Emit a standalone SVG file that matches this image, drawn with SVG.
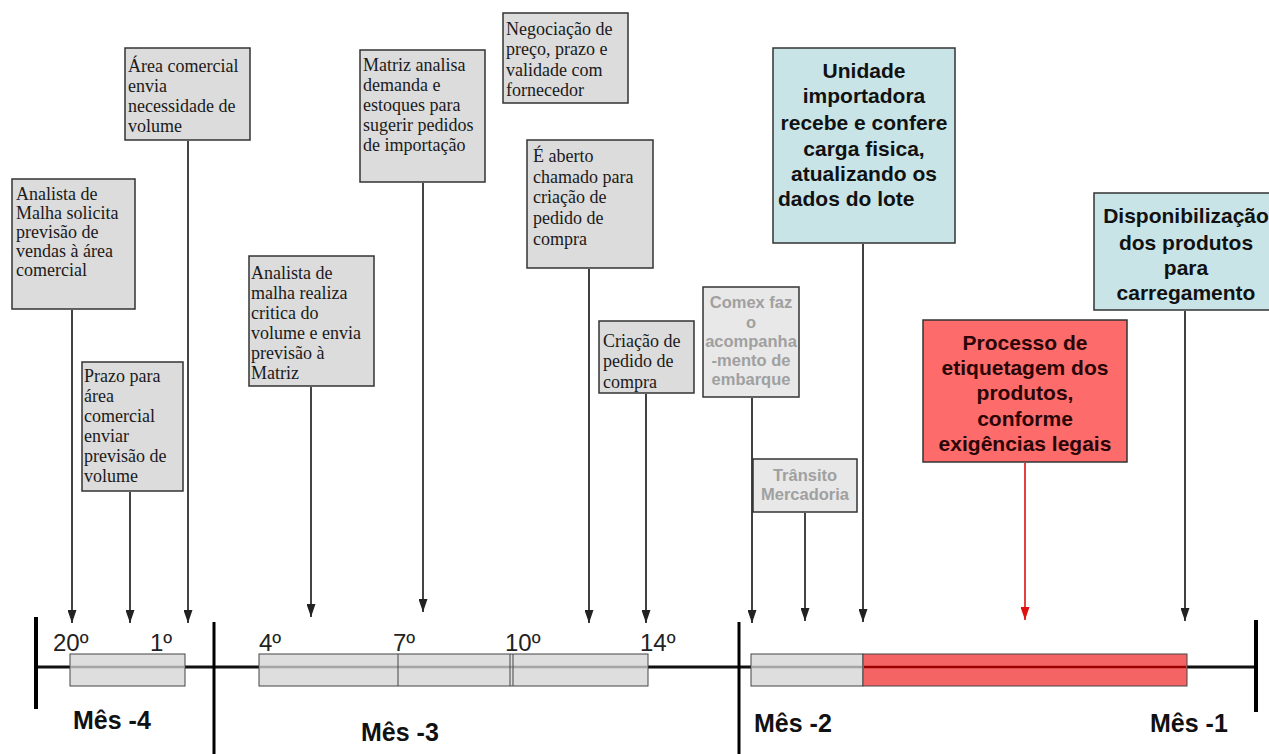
<svg xmlns="http://www.w3.org/2000/svg" width="1269" height="754" viewBox="0 0 1269 754">
<defs>
<marker id="ah" viewBox="0 0 13 9" refX="13" refY="4.5" markerWidth="13" markerHeight="9" markerUnits="userSpaceOnUse" orient="auto"><path d="M0,0 L13,4.5 L0,9 z" fill="#222"/></marker>
<marker id="ahr" viewBox="0 0 13 9" refX="13" refY="4.5" markerWidth="13" markerHeight="9" markerUnits="userSpaceOnUse" orient="auto"><path d="M0,0 L13,4.5 L0,9 z" fill="#e01010"/></marker>
<style>
.bx{fill:#dcdcdc;stroke:#333;stroke-width:1.5}
.bxl{fill:#e8e8e8;stroke:#333;stroke-width:1.5}
.bb{fill:#c8e4e7;stroke:#333;stroke-width:1.5}
.br{fill:#fd6b6b;stroke:#333;stroke-width:1.5}
.st{font-family:"Liberation Serif","Times New Roman",serif;font-size:18px;fill:#1a1a1a}
.gt{font-family:"Liberation Sans",Arial,sans-serif;font-size:16.5px;font-weight:bold;fill:#a0a0a0;text-anchor:middle}
.bt{font-family:"Liberation Sans",Arial,sans-serif;font-size:21px;font-weight:bold;fill:#111;text-anchor:middle}
.rt{font-family:"Liberation Sans",Arial,sans-serif;font-size:21px;font-weight:bold;fill:#2a0505;text-anchor:middle}
.cn{stroke:#444;stroke-width:2;fill:none;marker-end:url(#ah)}
.cnb{stroke:#111;stroke-width:1.6;fill:none;marker-end:url(#ah)}
.cnr{stroke:#e01010;stroke-width:1.6;fill:none;marker-end:url(#ahr)}
.od{font-family:"Liberation Sans",Arial,sans-serif;font-size:24px;fill:#222}
.mo{font-family:"Liberation Sans",Arial,sans-serif;font-size:25px;font-weight:bold;fill:#111}
.tb{fill:#dedede;stroke:#444;stroke-width:1}
.tr{fill:#f46464;stroke:#444;stroke-width:1}
</style>
</defs>

<g id="timeline">
<line x1="36" y1="667" x2="1256" y2="667" stroke="#111" stroke-width="3"/>
<rect class="tb" x="70" y="654" width="115" height="32"/>
<rect class="tb" x="259" y="654" width="389" height="32"/>
<rect class="tb" x="751" y="654" width="112" height="32"/>
<rect class="tr" x="863" y="654" width="324" height="32"/>
<line x1="71" y1="667" x2="184" y2="667" stroke="#a5a5a5" stroke-width="2.5"/>
<line x1="260" y1="667" x2="647" y2="667" stroke="#a5a5a5" stroke-width="2.5"/>
<line x1="752" y1="667" x2="862" y2="667" stroke="#a5a5a5" stroke-width="2.5"/>
<line x1="864" y1="667" x2="1186" y2="667" stroke="#9a0000" stroke-width="2.5"/>
<line x1="398" y1="654" x2="398" y2="686" stroke="#444" stroke-width="1"/>
<line x1="510" y1="654" x2="510" y2="686" stroke="#444" stroke-width="1"/>
<line x1="513" y1="654" x2="513" y2="686" stroke="#444" stroke-width="1"/>
<line x1="36" y1="617" x2="36" y2="709" stroke="#000" stroke-width="4"/>
<line x1="214" y1="622" x2="214" y2="754" stroke="#000" stroke-width="3"/>
<line x1="739" y1="622" x2="739" y2="754" stroke="#000" stroke-width="3"/>
<line x1="1256" y1="620" x2="1256" y2="712" stroke="#000" stroke-width="4"/>
<text class="od" x="53" y="651">20º</text>
<text class="od" x="150" y="651">1º</text>
<text class="od" x="259" y="651">4º</text>
<text class="od" x="393" y="651">7º</text>
<text class="od" x="505" y="651">10º</text>
<text class="od" x="640" y="651">14º</text>
<text class="mo" x="73" y="729">Mês -4</text>
<text class="mo" x="361" y="741">Mês -3</text>
<text class="mo" x="754" y="732">Mês -2</text>
<text class="mo" x="1150" y="732">Mês -1</text>
</g>

<g id="connectors">
<line class="cn" x1="72" y1="310" x2="72" y2="623"/>
<line class="cn" x1="188" y1="141" x2="188" y2="623"/>
<line class="cn" x1="130" y1="492" x2="130" y2="623"/>
<line class="cn" x1="311" y1="387" x2="311" y2="617"/>
<line class="cn" x1="423" y1="183" x2="423" y2="612"/>
<line class="cnb" x1="589" y1="269" x2="589" y2="623"/>
<line class="cnb" x1="646" y1="394" x2="646" y2="623"/>
<line class="cnb" x1="752" y1="398" x2="752" y2="623"/>
<line class="cn" x1="805" y1="513" x2="805" y2="621"/>
<line class="cnb" x1="863" y1="244" x2="863" y2="622"/>
<line class="cnb" x1="1185" y1="311" x2="1185" y2="621"/>
<line class="cnr" x1="1025" y1="463" x2="1025" y2="620"/>
</g>

<g id="n-analista-solicita">
<rect class="bx" x="12" y="179" width="123" height="130"/>
<text class="st"><tspan x="16" y="200">Analista de</tspan><tspan x="16" y="219">Malha solicita</tspan><tspan x="16" y="238">previsão de</tspan><tspan x="16" y="257">vendas à área</tspan><tspan x="16" y="276">comercial</tspan></text>
</g>

<g id="n-area-comercial">
<rect class="bx" x="125" y="48" width="125" height="92"/>
<text class="st"><tspan x="128" y="72">Área comercial</tspan><tspan x="128" y="92">envia</tspan><tspan x="128" y="112">necessidade de</tspan><tspan x="128" y="132">volume</tspan></text>
</g>

<g id="n-prazo">
<rect class="bx" x="82" y="362" width="101" height="129"/>
<text class="st"><tspan x="84" y="382">Prazo para</tspan><tspan x="84" y="402">área</tspan><tspan x="84" y="422">comercial</tspan><tspan x="84" y="442">enviar</tspan><tspan x="84" y="462">previsão de</tspan><tspan x="84" y="482">volume</tspan></text>
</g>

<g id="n-analista-critica">
<rect class="bx" x="249" y="256" width="125" height="130"/>
<text class="st"><tspan x="251" y="279">Analista de</tspan><tspan x="251" y="299">malha realiza</tspan><tspan x="251" y="319">critica do</tspan><tspan x="251" y="339">volume e envia</tspan><tspan x="251" y="359">previsão à</tspan><tspan x="251" y="379">Matriz</tspan></text>
</g>

<g id="n-matriz">
<rect class="bx" x="360" y="50" width="125" height="132"/>
<text class="st"><tspan x="363" y="71">Matriz analisa</tspan><tspan x="363" y="91">demanda e</tspan><tspan x="363" y="111">estoques para</tspan><tspan x="363" y="131">sugerir pedidos</tspan><tspan x="363" y="151">de importação</tspan></text>
</g>

<g id="n-negociacao">
<rect class="bx" x="503" y="13" width="125" height="90"/>
<text class="st"><tspan x="506" y="35">Negociação de</tspan><tspan x="506" y="55">preço, prazo e</tspan><tspan x="506" y="76">validade com</tspan><tspan x="506" y="96">fornecedor</tspan></text>
</g>

<g id="n-chamado">
<rect class="bx" x="527" y="140" width="126" height="128"/>
<text class="st"><tspan x="533" y="162">É aberto</tspan><tspan x="533" y="183">chamado para</tspan><tspan x="533" y="203">criação de</tspan><tspan x="533" y="224">pedido de</tspan><tspan x="533" y="245">compra</tspan></text>
</g>

<g id="n-criacao">
<rect class="bx" x="599" y="321" width="95" height="72"/>
<text class="st"><tspan x="603" y="347">Criação de</tspan><tspan x="603" y="367">pedido de</tspan><tspan x="603" y="388">compra</tspan></text>
</g>

<g id="n-comex">
<rect class="bxl" x="703" y="287" width="96" height="110"/>
<text class="gt"><tspan x="751" y="308">Comex faz</tspan><tspan x="751" y="328">o</tspan><tspan x="751" y="347">acompanha</tspan><tspan x="751" y="366">-mento de</tspan><tspan x="751" y="385">embarque</tspan></text>
</g>

<g id="n-transito">
<rect class="bxl" x="753" y="459" width="104" height="53"/>
<text class="gt"><tspan x="805" y="481">Trânsito</tspan><tspan x="805" y="500">Mercadoria</tspan></text>
</g>

<g id="n-unidade">
<rect class="bb" x="773" y="48" width="182" height="195"/>
<text class="bt"><tspan x="864" y="78">Unidade</tspan><tspan x="864" y="103">importadora</tspan><tspan x="864" y="130">recebe e confere</tspan><tspan x="864" y="156">carga fisica,</tspan><tspan x="864" y="181">atualizando os</tspan><tspan x="778" y="206" text-anchor="start">dados do lote</tspan></text>
</g>

<g id="n-disponibilizacao">
<rect class="bb" x="1094" y="193" width="190" height="117"/>
<text class="bt"><tspan x="1186" y="223">Disponibilização</tspan><tspan x="1186" y="250">dos produtos</tspan><tspan x="1186" y="275">para</tspan><tspan x="1186" y="300">carregamento</tspan></text>
</g>

<g id="n-etiquetagem">
<rect class="br" x="923" y="320" width="204" height="142"/>
<text class="rt"><tspan x="1025" y="350">Processo de</tspan><tspan x="1025" y="375">etiquetagem dos</tspan><tspan x="1025" y="400">produtos,</tspan><tspan x="1025" y="426">conforme</tspan><tspan x="1025" y="451">exigências legais</tspan></text>
</g>
</svg>
